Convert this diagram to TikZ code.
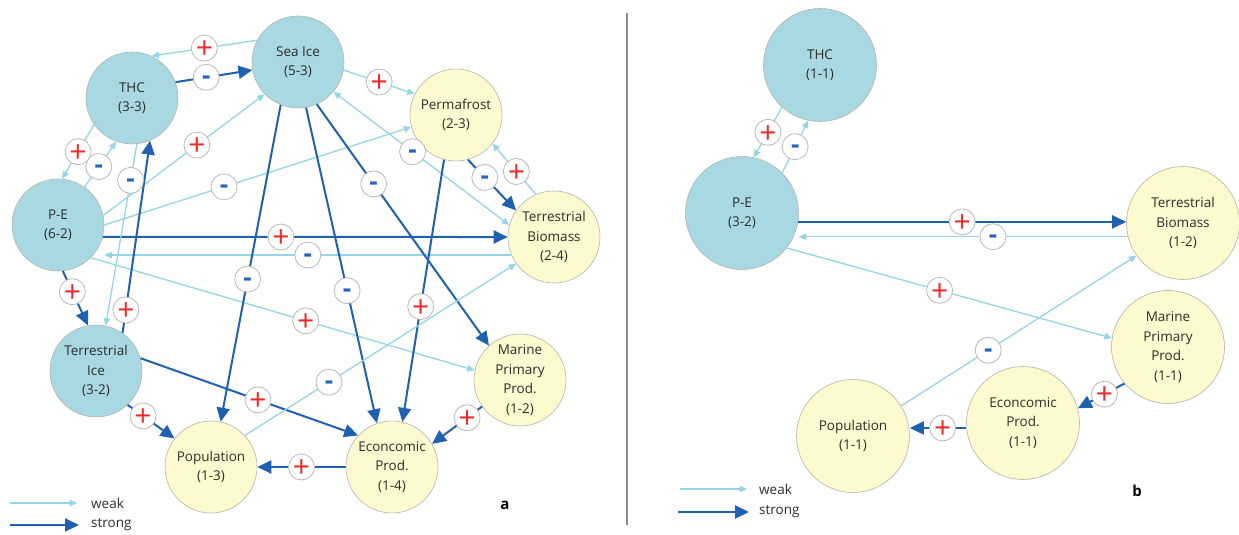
\documentclass[tikz,border=0pt]{standalone}
\usepackage{fontspec}
\setmainfont{Open Sans}
\usetikzlibrary{arrows.meta}
\definecolor{nblue}{RGB}{168,216,226}
\definecolor{nyel}{RGB}{252,250,206}
\definecolor{ndraw}{RGB}{180,180,170}
\definecolor{strongc}{RGB}{31,96,176}
\definecolor{weakc}{RGB}{150,212,232}
\definecolor{plusc}{RGB}{240,40,40}
\definecolor{minusc}{RGB}{40,100,185}
\definecolor{txtc}{RGB}{45,45,45}
\newcommand\sgp[1]{\node[plusn] (s#1) at (c#1) {\raisebox{-0.36em}[0pt][0pt]{+}};}
\newcommand\sgm[1]{\node[minusn] (s#1) at (c#1) {\raisebox{-0.27em}[0pt][0pt]{-}};}
\begin{document}
\begin{tikzpicture}[x=1pt,y=-1pt,
  cnode/.style={circle, draw=ndraw, line width=0.6pt, inner sep=0pt, align=center,
    text=txtc, font=\fontsize{13.5}{19.5}\selectfont},
  bnode/.style={cnode, fill=nblue, minimum size=92pt},
  ynode/.style={cnode, fill=nyel, minimum size=92pt},
  big/.style={minimum size=113pt},
  strong/.style={draw=strongc, line width=2pt, -{Triangle[length=14pt,width=13pt]}},
  weak/.style={draw=weakc, line width=1.3pt, -{Triangle[length=7.5pt,width=6.5pt]}},
  weakboth/.style={draw=weakc, line width=1.3pt, {Triangle[length=7.5pt,width=6.5pt]}-{Triangle[length=7.5pt,width=6.5pt]}},
  sgnbase/.style={circle, draw=black!28, fill=white, line width=0.8pt, minimum size=26pt, inner sep=0pt},
  plusn/.style={sgnbase, text=plusc, font=\fontsize{30}{30}\selectfont},
  minusn/.style={sgnbase, text=minusc, font=\bfseries\fontsize{26}{26}\selectfont},
  lgd/.style={anchor=west, text=txtc, font=\fontsize{13.5}{16}\selectfont, inner sep=0pt},
  tag/.style={text=black, font=\bfseries\fontsize{15}{16}\selectfont, inner sep=0pt}
]
\useasboundingbox (0,0) rectangle (1239,535);

% ---------- panel a ----------
\node[bnode] (sea) at (298,62) {Sea Ice\\(5-3)};
\node[bnode] (thc) at (132,98) {THC\\(3-3)};
\node[ynode] (perm) at (456,115) {Permafrost\\(2-3)};
\node[ynode] (tbio) at (554,237) {Terrestrial\\Biomass\\(2-4)};
\node[bnode] (pe) at (58,225) {P-E\\(6-2)};
\node[bnode] (tice) at (96,371) {Terrestrial\\Ice\\(3-2)};
\node[ynode] (pop) at (211,467) {Population\\(1-3)};
\node[ynode] (econ) at (392,467) {Econcomic\\Prod.\\(1-4)};
\node[ynode] (mar) at (520,380) {Marine\\Primary\\Prod.\\(1-2)};

\draw[weak] (sea.152) -- coordinate[pos=.5] (c1) (thc.65);
\draw[strong] (thc.20) -- coordinate[pos=.4] (c2) (sea.190);
\draw[weak] (sea.-10) -- coordinate[pos=.5] (c3) (perm.153);
\draw[weakboth] (sea.-40) -- coordinate[pos=.45] (c4) (tbio.165);
\draw[weak] (pe.12) -- coordinate[pos=.58] (c5) (sea.224);
\draw[weak] (pe.0) -- coordinate[pos=.39] (c6) (perm.195);
\draw[strong] (pe.-15) -- coordinate[pos=.44] (c7) (tbio.180);
\draw[weak] (tbio.203) -- coordinate[pos=.5] (c8) (pe.east |- tbio.203);
\draw[weak] (pe.-45) -- coordinate[pos=.56] (c9) (mar.168);
\draw[weak] (pe.55) -- coordinate[pos=.45] (c10) (thc.250);
\draw[weak] (thc.215) -- coordinate[pos=.5] (c11) (pe.85);
\draw[weak] (thc.-84) -- coordinate[pos=.2] (c12) (tice.78);
\draw[strong] (tice.55) -- coordinate[pos=.12] (c13) (thc.-67);
\draw[strong] (pe.-84) -- coordinate[pos=.38] (c14) (tice.100);
\draw[strong] (tice.-47) -- coordinate[pos=.33] (c15) (pop.142);
\draw[strong] (tice.16) -- coordinate[pos=.54] (c16) (econ.137);
\draw[strong] (sea.-112) -- coordinate[pos=.55] (c17) (pop.78);
\draw[strong] (sea.-80) -- coordinate[pos=.58] (c18) (econ.109);
\draw[strong] (sea.-66) -- coordinate[pos=.33] (c19) (mar.132);
\draw[strong] (perm.-105) -- coordinate[pos=.56] (c20) (econ.77);
\draw[strong] (perm.-75) -- coordinate[pos=.35] (c21) (tbio.145);
\draw[weak] (tbio.113) -- coordinate[pos=.45] (c22) (perm.-38);
\draw[weak] (pop.43) -- coordinate[pos=.31] (c23) (tbio.215);
\draw[strong] (econ.180) -- coordinate[pos=.5] (c24) (pop.0);
\draw[strong] (mar.215) -- coordinate[pos=.3] (c25) (econ.30);

\sgp{1} \sgm{2} \sgp{3} \sgm{4} \sgp{5} \sgm{6} \sgp{7} \sgm{8} \sgp{9}
\sgm{10} \sgp{11} \sgm{12} \sgp{13} \sgp{14} \sgp{15} \sgp{16} \sgm{17}
\sgm{18} \sgm{19} \sgp{20} \sgm{21} \sgp{22} \sgm{23} \sgp{24} \sgp{25}

% legend a
\coordinate (lw1) at (10,503); \coordinate (lw2) at (77,503);
\coordinate (ls1) at (10,525); \coordinate (ls2) at (79,525);
\draw[weak] (lw1) -- (lw2);
\draw[strong] (ls1) -- (ls2);
\node[lgd] (lwt) at (91,503) {weak};
\node[lgd] (lst) at (91,525) {strong};
\node[tag] (ta) at (505,505) {a};

% divider
\coordinate (dv1) at (627,13); \coordinate (dv2) at (627,525);
\draw[black!45, line width=1.4pt] (dv1) -- (dv2);

% ---------- panel b ----------
\node[bnode, big] (thc2) at (820,65) {THC\\(1-1)};
\node[bnode, big] (pe2) at (742,213) {P-E\\(3-2)};
\node[ynode, big] (tb2) at (1183,223) {Terrestrial\\Biomass\\(1-2)};
\node[ynode, big] (mp2) at (1168,347) {Marine\\Primary\\Prod.\\(1-1)};
\node[ynode, big] (ec2) at (1023,423) {Econcomic\\Prod.\\(1-1)};
\node[ynode, big] (po2) at (853,436) {Population\\(1-1)};

\draw[weak] (thc2.228) -- coordinate[pos=.5] (c31) (pe2.78);
\draw[weak] (pe2.45) -- coordinate[pos=.5] (c32) (thc2.258);
\draw[strong] (pe2.-9) -- coordinate[pos=.5] (c33) (tb2.west |- pe2.-9);
\draw[weak] (tb2.194) -- coordinate[pos=.41] (c34) (pe2.east |- tb2.194);
\draw[weak] (pe2.-38) -- coordinate[pos=.47] (c35) (mp2.171);
\draw[weak] (po2.32) -- coordinate[pos=.37] (c36) (tb2.215);
\draw[strong] (mp2.220) -- coordinate[pos=.43] (c37) (ec2.15);
\draw[strong] (ec2.185) -- coordinate[pos=.42] (c38) (po2.east |- ec2.185);

\sgp{31} \sgm{32} \sgp{33} \sgm{34} \sgp{35} \sgm{36} \sgp{37} \sgp{38}

% legend b
\coordinate (rw1) at (680,489); \coordinate (rw2) at (747,489);
\coordinate (rs1) at (678,512); \coordinate (rs2) at (749,512);
\draw[weak] (rw1) -- (rw2);
\draw[strong] (rs1) -- (rs2);
\node[lgd] (rwt) at (759,489) {weak};
\node[lgd] (rst) at (759,512) {strong};
\node[tag] (tb) at (1137,491) {b};
\end{tikzpicture}
\end{document}
